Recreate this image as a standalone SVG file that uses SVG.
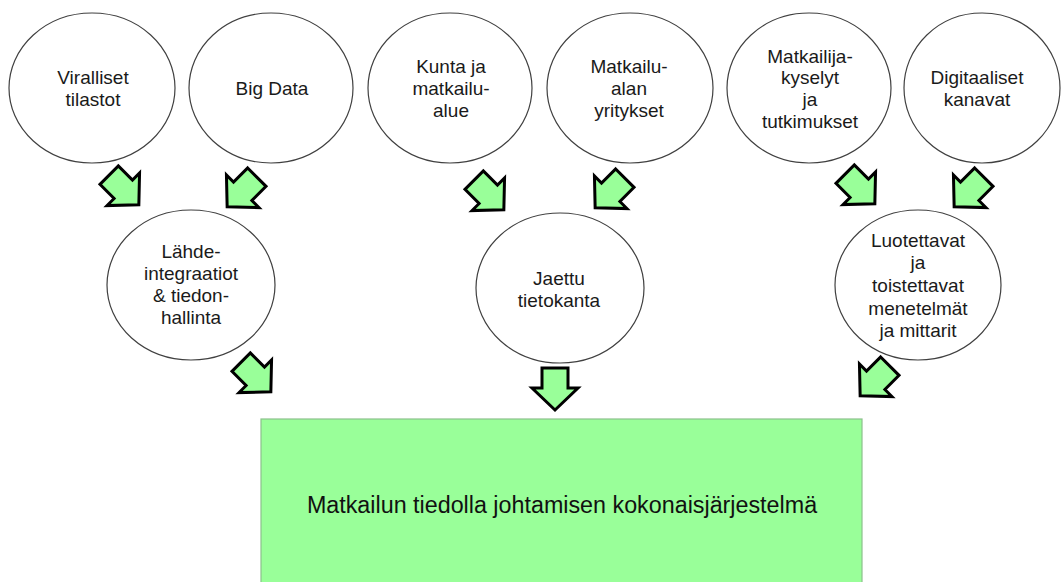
<svg xmlns="http://www.w3.org/2000/svg" width="1063" height="582" viewBox="0 0 1063 582">
  <style>
    .bubble { fill: #ffffff; stroke: #404040; stroke-width: 1.2; }
    .label { font-family: "Liberation Sans", Arial, sans-serif; font-size: 19px; fill: #1a1a1a; text-anchor: middle; }
    .main { fill: #99ff99; stroke: #8cc08c; stroke-width: 1.2; }
    .mainlabel { font-family: "Liberation Sans", Arial, sans-serif; font-size: 23.3px; fill: #111111; text-anchor: middle; }
    .flow { fill: #99ff99; stroke: #000000; stroke-width: 3; stroke-linejoin: miter; }
  </style>
  <defs>
    <!-- block arrow pointing down, centred on the origin -->
    <path id="blockArrow" d="M-13,-21 H13 V-1 H23 L0,21 L-23,-1 H-13 Z"/>
  </defs>
  <rect width="1063" height="582" fill="#ffffff"/>

  <!-- source bubbles -->
  <g id="viralliset-tilastot">
    <ellipse class="bubble" cx="92" cy="88" rx="83" ry="75"/>
    <text class="label" x="93" y="84">Viralliset</text>
    <text class="label" x="93" y="106">tilastot</text>
  </g>
  <g id="big-data">
    <ellipse class="bubble" cx="271" cy="88" rx="82" ry="75"/>
    <text class="label" x="272" y="95">Big Data</text>
  </g>
  <g id="kunta">
    <ellipse class="bubble" cx="450" cy="88" rx="82" ry="75"/>
    <text class="label" x="451" y="73">Kunta ja</text>
    <text class="label" x="451" y="95">matkailu-</text>
    <text class="label" x="451" y="117">alue</text>
  </g>
  <g id="yritykset">
    <ellipse class="bubble" cx="630" cy="88" rx="83" ry="75"/>
    <text class="label" x="629" y="73">Matkailu-</text>
    <text class="label" x="629" y="95">alan</text>
    <text class="label" x="629" y="117">yritykset</text>
  </g>
  <g id="kyselyt">
    <ellipse class="bubble" cx="809" cy="88" rx="82" ry="75"/>
    <text class="label" x="810" y="63">Matkailija-</text>
    <text class="label" x="810" y="84">kyselyt</text>
    <text class="label" x="810" y="106">ja</text>
    <text class="label" x="810" y="128">tutkimukset</text>
  </g>
  <g id="digitaaliset-kanavat">
    <ellipse class="bubble" cx="982" cy="88" rx="78" ry="75"/>
    <text class="label" x="977" y="84">Digitaaliset</text>
    <text class="label" x="977" y="106">kanavat</text>
  </g>

  <!-- intermediate bubbles -->
  <g id="lahdeintegraatiot">
    <ellipse class="bubble" cx="191" cy="285" rx="84" ry="75"/>
    <text class="label" x="191" y="258">Lähde-</text>
    <text class="label" x="191" y="280">integraatiot</text>
    <text class="label" x="191" y="302">&amp; tiedon-</text>
    <text class="label" x="191" y="324">hallinta</text>
  </g>
  <g id="jaettu-tietokanta">
    <ellipse class="bubble" cx="560" cy="288" rx="84" ry="75"/>
    <text class="label" x="559" y="285">Jaettu</text>
    <text class="label" x="559" y="307">tietokanta</text>
  </g>
  <g id="menetelmat">
    <ellipse class="bubble" cx="918" cy="285" rx="83" ry="75"/>
    <text class="label" x="918" y="247">Luotettavat</text>
    <text class="label" x="918" y="269">ja</text>
    <text class="label" x="918" y="292">toistettavat</text>
    <text class="label" x="918" y="315">menetelmät</text>
    <text class="label" x="918" y="337">ja mittarit</text>
  </g>

  <!-- overall system -->
  <g id="kokonaisjarjestelma">
    <rect class="main" x="261" y="419" width="601" height="170"/>
    <text class="mainlabel" x="562" y="513">Matkailun tiedolla johtamisen kokonaisjärjestelmä</text>
  </g>

  <!-- block-arrow connectors -->
  <g id="connectors">
    <use href="#blockArrow" class="flow" transform="translate(124,190) rotate(-45)"/>
    <use href="#blockArrow" class="flow" transform="translate(242,192) rotate(45)"/>
    <use href="#blockArrow" class="flow" transform="translate(489,195) rotate(-45)"/>
    <use href="#blockArrow" class="flow" transform="translate(610,193) rotate(45)"/>
    <use href="#blockArrow" class="flow" transform="translate(860,189) rotate(-45)"/>
    <use href="#blockArrow" class="flow" transform="translate(969,192) rotate(45)"/>
    <use href="#blockArrow" class="flow" transform="translate(256,377) rotate(-45)"/>
    <use href="#blockArrow" class="flow" transform="translate(555,389)"/>
    <use href="#blockArrow" class="flow" transform="translate(875,381) rotate(45)"/>
  </g>
</svg>
